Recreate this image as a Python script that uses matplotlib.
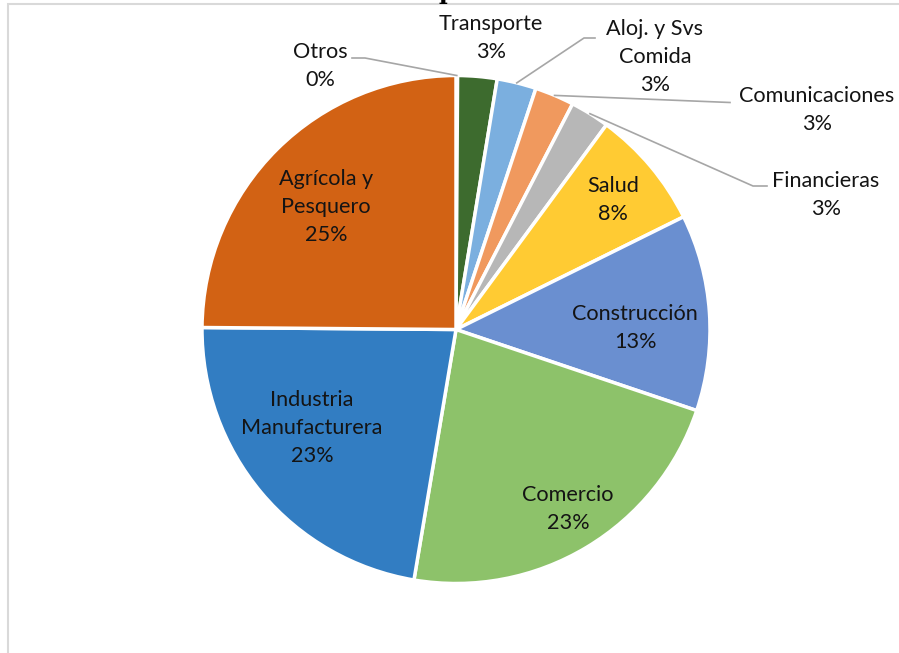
import matplotlib
matplotlib.use("Agg")
import matplotlib.pyplot as plt
import numpy as np
from matplotlib.patches import Rectangle

W, H = 899, 653

categories = ["Otros", "Transporte", "Aloj. y Svs\nComida", "Comunicaciones",
              "Financieras", "Salud", "Construcción", "Comercio",
              "Industria\nManufacturera", "Agrícola y\nPesquero"]
values = [0.1, 2.5, 2.5, 2.5, 2.5, 7.6, 12.5, 22.5, 22.5, 24.9]
colors = ["#3D6B2E", "#3D6B2E", "#7BAFDF", "#F0995E", "#B7B7B7", "#FFCB33",
          "#6A8FD0", "#8DC26A", "#327DC2", "#D26214"]

plt.rcParams['font.family'] = ['Lato', 'DejaVu Sans']

fig = plt.figure(figsize=(W / 100, H / 100), dpi=100)
ax = fig.add_axes([0, 0, 1, 1])

def py(y):
    return H - y

cx, cy, R = 456, py(329.5), 254
wedges, _ = ax.pie(values, colors=colors, startangle=90, counterclock=False,
                   center=(cx, cy), radius=R,
                   wedgeprops=dict(edgecolor="white", linewidth=2.5))
ax.set_xlim(0, W)
ax.set_ylim(0, H)
ax.set_aspect('equal')
ax.axis('off')

labels = [f"{c}\n{int(v + 0.5)}%" for c, v in zip(categories, values)]
fs = 15.6
ls = 1.5
lc = "#A6A6A6"
tc = "#141414"

# inside labels
inside = {5: (613, 200), 6: (635, 328), 7: (568, 509), 8: (312, 428), 9: (326, 207)}
for i, (x, y) in inside.items():
    ax.text(x, py(y), labels[i], ha="center", va="center", fontsize=fs,
            color=tc, linespacing=ls)

# outside labels
outside = {0: (320, 66), 1: (491, 38), 2: (655, 57), 3: (817, 110), 4: (826, 195)}
for i, (x, y) in outside.items():
    ax.text(x, py(y), labels[i], ha="center", va="center", fontsize=fs,
            color=tc, linespacing=ls)

def anchor(i):
    w = wedges[i]
    a = np.deg2rad((w.theta1 + w.theta2) / 2)
    return cx + R * np.cos(a), cy + R * np.sin(a)

# leader lines
ax0 = anchor(0)
ax.plot([352, 365, ax0[0]], [py(58), py(58), ax0[1]], color=lc, lw=1.2)
a2 = anchor(2)
ax.plot([a2[0], 584, 595], [a2[1], py(38), py(38)], color=lc, lw=1.2)
a3 = anchor(3)
ax.plot([a3[0], 730], [a3[1], py(102.5)], color=lc, lw=1.2)
a4 = anchor(4)
ax.plot([a4[0], 753, 767], [a4[1], py(186), py(186)], color=lc, lw=1.2)

# chart frame
fig.patches.append(Rectangle((8 / W, -0.1), 1.2, (H - 3.5) / H + 0.1,
                             transform=fig.transFigure, fill=False,
                             edgecolor="#D9D9D9", lw=1.5))
# clipped title fragment (title lies above the visible area)
fig.text(447 / W, 1 + 1.5 / H, "p", fontsize=17, fontweight="bold",
         family="DejaVu Serif", ha="center", va="baseline", color="black")

fig.savefig("out.png", dpi=100)
